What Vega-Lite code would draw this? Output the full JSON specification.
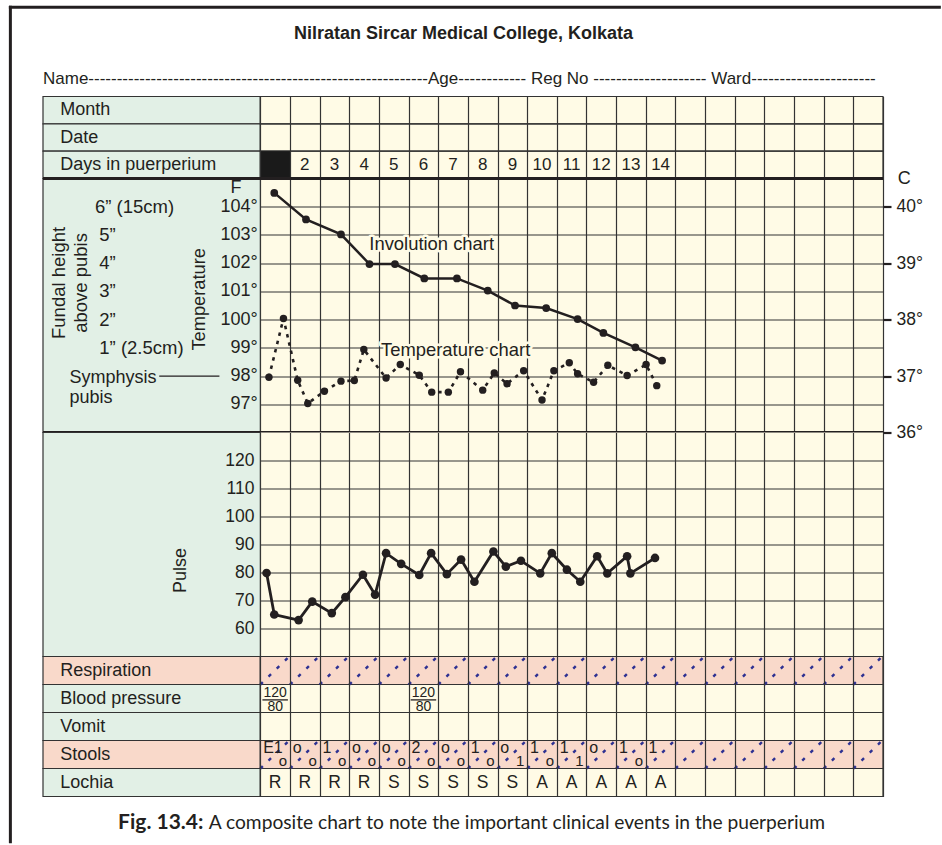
{
  "$schema": "https://vega.github.io/schema/vega-lite/v6.json",
  "padding": {"left": 8, "top": 4.5, "right": 0, "bottom": 0},
  "background": "white",
  "spacing": 0,
  "bounds": "flush",
  "datasets": {
    "header_rows": [{"row": "Month"}, {"row": "Date"}, {"row": "Days in puerperium"}],
    "days": [{"day": 2}, {"day": 3}, {"day": 4}, {"day": 5}, {"day": 6}, {"day": 7}, {"day": 8}, {"day": 9}, {"day": 10}, {"day": 11}, {"day": 12}, {"day": 13}, {"day": 14}],
    "columns": [{"day": 1}, {"day": 2}, {"day": 3}, {"day": 4}, {"day": 5}, {"day": 6}, {"day": 7}, {"day": 8}, {"day": 9}, {"day": 10}, {"day": 11}, {"day": 12}, {"day": 13}, {"day": 14}, {"day": 15}, {"day": 16}, {"day": 17}, {"day": 18}, {"day": 19}, {"day": 20}, {"day": 21}],
    "temp_scale": [
      {"F": 104, "label": "104°", "fundal": "6” (15cm)"},
      {"F": 103, "label": "103°", "fundal": "5”"},
      {"F": 102, "label": "102°", "fundal": "4”"},
      {"F": 101, "label": "101°", "fundal": "3”"},
      {"F": 100, "label": "100°", "fundal": "2”"},
      {"F": 99, "label": "99°", "fundal": "1” (2.5cm)"},
      {"F": 98, "label": "98°", "fundal": "Symphysis\npubis"},
      {"F": 97, "label": "97°", "fundal": ""}
    ],
    "involution": [
      {"day": 0.97, "F": 104.49}, {"day": 2.04, "F": 103.55}, {"day": 3.22, "F": 103.02}, {"day": 4.18, "F": 101.97},
      {"day": 5.04, "F": 101.97}, {"day": 6.03, "F": 101.46}, {"day": 7.13, "F": 101.46}, {"day": 8.17, "F": 101.03},
      {"day": 9.09, "F": 100.5}, {"day": 10.14, "F": 100.41}, {"day": 11.2, "F": 100.02}, {"day": 12.07, "F": 99.53},
      {"day": 13.15, "F": 99.02}, {"day": 14.05, "F": 98.55}
    ],
    "temperature": [
      {"day": 0.79, "F": 97.96}, {"day": 1.28, "F": 100.04}, {"day": 1.76, "F": 97.85}, {"day": 2.1, "F": 97.03},
      {"day": 2.66, "F": 97.46}, {"day": 3.22, "F": 97.82}, {"day": 3.67, "F": 97.84}, {"day": 3.99, "F": 98.94},
      {"day": 4.74, "F": 97.93}, {"day": 5.22, "F": 98.41}, {"day": 5.86, "F": 98.03}, {"day": 6.28, "F": 97.43},
      {"day": 6.84, "F": 97.43}, {"day": 7.25, "F": 98.15}, {"day": 8.0, "F": 97.5}, {"day": 8.39, "F": 98.11},
      {"day": 8.82, "F": 97.73}, {"day": 9.38, "F": 98.19}, {"day": 10.0, "F": 97.15}, {"day": 10.4, "F": 98.19},
      {"day": 10.92, "F": 98.47}, {"day": 11.2, "F": 98.08}, {"day": 11.74, "F": 97.78}, {"day": 12.22, "F": 98.38},
      {"day": 12.87, "F": 98.02}, {"day": 13.51, "F": 98.41}, {"day": 13.87, "F": 97.66}
    ],
    "pulse_scale": [{"pulse": 120}, {"pulse": 110}, {"pulse": 100}, {"pulse": 90}, {"pulse": 80}, {"pulse": 70}, {"pulse": 60}],
    "pulse": [
      {"day": 0.71, "pulse": 79.8}, {"day": 0.97, "pulse": 65.0}, {"day": 1.79, "pulse": 63.0}, {"day": 2.25, "pulse": 69.6},
      {"day": 2.91, "pulse": 65.5}, {"day": 3.37, "pulse": 71.2}, {"day": 3.96, "pulse": 79.2}, {"day": 4.37, "pulse": 72.1},
      {"day": 4.74, "pulse": 86.9}, {"day": 5.25, "pulse": 83.1}, {"day": 5.86, "pulse": 79.1}, {"day": 6.26, "pulse": 86.9},
      {"day": 6.79, "pulse": 79.4}, {"day": 7.27, "pulse": 84.6}, {"day": 7.72, "pulse": 76.7}, {"day": 8.36, "pulse": 87.5},
      {"day": 8.78, "pulse": 82.1}, {"day": 9.29, "pulse": 84.2}, {"day": 9.94, "pulse": 79.7}, {"day": 10.33, "pulse": 86.9},
      {"day": 10.84, "pulse": 81.0}, {"day": 11.29, "pulse": 76.7}, {"day": 11.86, "pulse": 85.8}, {"day": 12.2, "pulse": 79.7},
      {"day": 12.87, "pulse": 85.8}, {"day": 12.98, "pulse": 79.7}, {"day": 13.81, "pulse": 85.2}
    ],
    "bottom_rows": [{"row": "Respiration"}, {"row": "Blood pressure"}, {"row": "Vomit"}, {"row": "Stools"}, {"row": "Lochia"}],
    "bp": [
      {"day": 1, "row": "Blood pressure", "systolic": 120, "diastolic": 80},
      {"day": 6, "row": "Blood pressure", "systolic": 120, "diastolic": 80}
    ],
    "stools": [
      {"day": 1, "row": "Stools", "upper": "E1", "lower": "o"},
      {"day": 2, "row": "Stools", "upper": "o", "lower": "o"},
      {"day": 3, "row": "Stools", "upper": "1", "lower": "o"},
      {"day": 4, "row": "Stools", "upper": "o", "lower": "o"},
      {"day": 5, "row": "Stools", "upper": "o", "lower": "o"},
      {"day": 6, "row": "Stools", "upper": "2", "lower": "o"},
      {"day": 7, "row": "Stools", "upper": "o", "lower": "o"},
      {"day": 8, "row": "Stools", "upper": "1", "lower": "o"},
      {"day": 9, "row": "Stools", "upper": "o", "lower": "1"},
      {"day": 10, "row": "Stools", "upper": "1", "lower": "o"},
      {"day": 11, "row": "Stools", "upper": "1", "lower": "1"},
      {"day": 12, "row": "Stools", "upper": "o", "lower": ""},
      {"day": 13, "row": "Stools", "upper": "1", "lower": "o"},
      {"day": 14, "row": "Stools", "upper": "1", "lower": ""}
    ],
    "lochia": [
      {"day": 1, "row": "Lochia", "lochia": "R"}, {"day": 2, "row": "Lochia", "lochia": "R"},
      {"day": 3, "row": "Lochia", "lochia": "R"}, {"day": 4, "row": "Lochia", "lochia": "R"},
      {"day": 5, "row": "Lochia", "lochia": "S"}, {"day": 6, "row": "Lochia", "lochia": "S"},
      {"day": 7, "row": "Lochia", "lochia": "S"}, {"day": 8, "row": "Lochia", "lochia": "S"},
      {"day": 9, "row": "Lochia", "lochia": "S"}, {"day": 10, "row": "Lochia", "lochia": "A"},
      {"day": 11, "row": "Lochia", "lochia": "A"}, {"day": 12, "row": "Lochia", "lochia": "A"},
      {"day": 13, "row": "Lochia", "lochia": "A"}, {"day": 14, "row": "Lochia", "lochia": "A"}
    ]
  },
  "vconcat": [
    {
      "width": 840, "height": 82,
      "view": {"fill": "#FFFBE6", "stroke": null},
      "layer": [
        {
          "data": {"name": "header_rows"},
          "mark": {"type": "rect", "fill": "#E2F0E6", "stroke": "#333333", "strokeWidth": 1.2},
          "encoding": {
            "x": {"datum": -6.83, "type": "quantitative", "scale": {"domain": [-6.83, 21.5], "nice": false, "zero": false},
              "axis": {"values": [0.5,1.5,2.5,3.5,4.5,5.5,6.5,7.5,8.5,9.5,10.5,11.5,12.5,13.5,14.5,15.5,16.5,17.5,18.5,19.5,20.5,21.5], "tickCount": 100, "grid": true, "gridColor": "#333333", "gridWidth": 1.2, "gridOpacity": 1, "labels": false, "ticks": false, "domain": false, "title": null, "zindex": 1}},
            "x2": {"datum": 0.5},
            "y": {"field": "row", "type": "nominal", "scale": {"domain": ["Month", "Date", "Days in puerperium"], "paddingInner": 0, "paddingOuter": 0}, "axis": null}
          }
        },
        {
          "data": {"name": "header_rows"},
          "mark": {"type": "rect", "filled": false, "stroke": "#333333", "strokeWidth": 1.2},
          "encoding": {
            "x": {"datum": 0.5, "type": "quantitative"},
            "x2": {"datum": 21.5},
            "y": {"field": "row", "type": "nominal"}
          }
        },
        {
          "data": {"values": [{}]},
          "mark": {"type": "rect", "fill": "#1A1A1A"},
          "encoding": {
            "x": {"datum": 0.5, "type": "quantitative"},
            "x2": {"datum": 1.5},
            "y": {"datum": "Days in puerperium", "type": "nominal"}
          }
        },
        {
          "data": {"name": "header_rows"},
          "mark": {"type": "text", "align": "left", "baseline": "middle", "fontSize": 18},
          "encoding": {
            "x": {"datum": -6.25, "type": "quantitative"},
            "y": {"field": "row", "type": "nominal"},
            "text": {"field": "row"}
          }
        },
        {
          "data": {"name": "days"},
          "mark": {"type": "text", "baseline": "middle", "fontSize": 17},
          "encoding": {
            "x": {"field": "day", "type": "quantitative"},
            "y": {"datum": "Days in puerperium", "type": "nominal"},
            "text": {"field": "day", "type": "quantitative"}
          }
        }
      ]
    },
    {
      "width": 840, "height": 254,
      "view": {"fill": "#FFFBE6", "stroke": null},
      "resolve": {"scale": {"y": "independent"}},
      "layer": [
        {
          "layer": [
            {
              "data": {"values": [{}]},
              "mark": {"type": "rect", "fill": "#E2F0E6", "stroke": "#333333", "strokeWidth": 1.2},
              "encoding": {
                "x": {"datum": -6.83, "type": "quantitative", "scale": {"domain": [-6.83, 21.5], "nice": false, "zero": false},
                  "axis": {"values": [0.5,1.5,2.5,3.5,4.5,5.5,6.5,7.5,8.5,9.5,10.5,11.5,12.5,13.5,14.5,15.5,16.5,17.5,18.5,19.5,20.5,21.5], "tickCount": 100, "grid": true, "gridColor": "#333333", "gridWidth": 1.2, "gridOpacity": 1, "labels": false, "ticks": false, "domain": false, "title": null, "zindex": 0}},
                "x2": {"datum": 0.5}
              }
            },
            {
              "data": {"name": "temp_scale"},
              "mark": {"type": "text", "align": "right", "baseline": "middle", "fontSize": 18},
              "encoding": {
                "x": {"datum": 0.41, "type": "quantitative"},
                "y": {"field": "F", "type": "quantitative", "scale": {"domain": [96, 105], "nice": false, "zero": false},
                  "axis": {"values": [97,98,99,100,101,102,103,104], "tickCount": 100, "grid": true, "gridColor": "#333333", "gridWidth": 1.2, "gridOpacity": 1, "labels": false, "ticks": false, "domain": false, "title": null, "zindex": 0}},
                "text": {"field": "label"}
              }
            },
            {
              "data": {"values": [{}]},
              "mark": {"type": "text", "align": "center", "baseline": "middle", "fontSize": 18, "fontWeight": "bold"},
              "encoding": {
                "x": {"datum": 7.35, "type": "quantitative"},
                "y": {"datum": 110.11, "type": "quantitative"},
                "text": {"value": "Nilratan Sircar Medical College, Kolkata"}
              }
            },
            {
              "data": {"values": [{}]},
              "mark": {"type": "text", "align": "left", "baseline": "middle", "fontSize": 17},
              "encoding": {
                "x": {"datum": -6.83, "type": "quantitative"},
                "y": {"datum": 108.52, "type": "quantitative"},
                "text": {"value": "Name------------------------------------------------------------Age------------ Reg No -------------------- Ward----------------------"}
              }
            },
            {
              "data": {"name": "temp_scale"},
              "transform": [{"filter": "datum.F >= 99 && datum.F <= 103"}],
              "mark": {"type": "text", "align": "left", "baseline": "middle", "fontSize": 18.5},
              "encoding": {
                "x": {"datum": -4.93, "type": "quantitative"},
                "y": {"field": "F", "type": "quantitative"},
                "text": {"field": "fundal"}
              }
            },
            {
              "data": {"name": "temp_scale"},
              "transform": [{"filter": "datum.F == 104"}],
              "mark": {"type": "text", "align": "left", "baseline": "middle", "fontSize": 18.5},
              "encoding": {
                "x": {"datum": -5.08, "type": "quantitative"},
                "y": {"field": "F", "type": "quantitative"},
                "text": {"field": "fundal"}
              }
            },
            {
              "data": {"name": "temp_scale"},
              "transform": [{"filter": "datum.F == 98"}],
              "mark": {"type": "text", "align": "left", "baseline": "alphabetic", "dy": 7, "fontSize": 18, "lineBreak": "\n", "lineHeight": 20},
              "encoding": {
                "x": {"datum": -5.94, "type": "quantitative"},
                "y": {"field": "F", "type": "quantitative"},
                "text": {"field": "fundal"}
              }
            },
            {
              "data": {"values": [{}]},
              "mark": {"type": "rule", "color": "#231F20", "strokeWidth": 1.3},
              "encoding": {
                "x": {"datum": -2.91, "type": "quantitative"},
                "x2": {"datum": -0.88},
                "y": {"datum": 98, "type": "quantitative"}
              }
            },
            {
              "data": {"values": [{}]},
              "mark": {"type": "text", "angle": 270, "baseline": "middle", "fontSize": 18.5, "lineHeight": 21.7},
              "encoding": {
                "x": {"datum": -6.28, "type": "quantitative"},
                "y": {"datum": 101.3, "type": "quantitative"},
                "text": {"value": ["Fundal height", "above pubis"]}
              }
            },
            {
              "data": {"values": [{}]},
              "mark": {"type": "text", "angle": 270, "baseline": "middle", "fontSize": 18.3},
              "encoding": {
                "x": {"datum": -1.52, "type": "quantitative"},
                "y": {"datum": 100.72, "type": "quantitative"},
                "text": {"value": "Temperature"}
              }
            },
            {
              "data": {"values": [{}]},
              "mark": {"type": "text", "baseline": "middle", "fontSize": 18},
              "encoding": {
                "x": {"datum": -0.32, "type": "quantitative"},
                "y": {"datum": 104.67, "type": "quantitative"},
                "text": {"value": "F"}
              }
            },
            {
              "data": {"values": [{}]},
              "mark": {"type": "text", "align": "left", "baseline": "middle", "fontSize": 18.4, "stroke": "#FFFBE6", "strokeWidth": 5, "fill": "#FFFBE6", "strokeJoin": "round"},
              "encoding": {
                "x": {"datum": 4.175, "type": "quantitative"},
                "y": {"datum": 102.68, "type": "quantitative"},
                "text": {"value": "Involution chart"}
              }
            },
            {
              "data": {"values": [{}]},
              "mark": {"type": "text", "align": "left", "baseline": "middle", "fontSize": 18.4},
              "encoding": {
                "x": {"datum": 4.175, "type": "quantitative"},
                "y": {"datum": 102.68, "type": "quantitative"},
                "text": {"value": "Involution chart"}
              }
            },
            {
              "data": {"values": [{}]},
              "mark": {"type": "text", "align": "left", "baseline": "middle", "fontSize": 18.4, "stroke": "#FFFBE6", "strokeWidth": 5, "fill": "#FFFBE6", "strokeJoin": "round"},
              "encoding": {
                "x": {"datum": 4.57, "type": "quantitative"},
                "y": {"datum": 98.92, "type": "quantitative"},
                "text": {"value": "Temperature chart"}
              }
            },
            {
              "data": {"values": [{}]},
              "mark": {"type": "text", "align": "left", "baseline": "middle", "fontSize": 18.4},
              "encoding": {
                "x": {"datum": 4.57, "type": "quantitative"},
                "y": {"datum": 98.92, "type": "quantitative"},
                "text": {"value": "Temperature chart"}
              }
            },
            {
              "data": {"name": "involution"},
              "mark": {"type": "line", "color": "#231F20", "strokeWidth": 2.5},
              "encoding": {
                "x": {"field": "day", "type": "quantitative"},
                "y": {"field": "F", "type": "quantitative"}
              }
            },
            {
              "data": {"name": "involution"},
              "mark": {"type": "circle", "color": "#231F20", "size": 60, "opacity": 1},
              "encoding": {
                "x": {"field": "day", "type": "quantitative"},
                "y": {"field": "F", "type": "quantitative"}
              }
            },
            {
              "data": {"name": "temperature"},
              "mark": {"type": "line", "color": "#231F20", "strokeWidth": 2.6, "strokeDash": [3.5, 5]},
              "encoding": {
                "x": {"field": "day", "type": "quantitative"},
                "y": {"field": "F", "type": "quantitative"}
              }
            },
            {
              "data": {"name": "temperature"},
              "mark": {"type": "circle", "color": "#231F20", "size": 55, "opacity": 1},
              "encoding": {
                "x": {"field": "day", "type": "quantitative"},
                "y": {"field": "F", "type": "quantitative"}
              }
            },
            {
              "data": {"values": [{}]},
              "mark": {"type": "rule", "color": "#231F20", "strokeWidth": 2.8},
              "encoding": {
                "x": {"datum": -6.83, "type": "quantitative"},
                "x2": {"datum": 21.5},
                "y": {"datum": 105, "type": "quantitative"}
              }
            },
            {
              "data": {"values": [{}]},
              "mark": {"type": "rule", "color": "#231F20", "strokeWidth": 2.8},
              "encoding": {
                "x": {"datum": -6.83, "type": "quantitative"},
                "x2": {"datum": 21.5},
                "y": {"datum": 96, "type": "quantitative"}
              }
            },
            {
              "data": {"values": [{}]},
              "mark": {"type": "rule", "color": "#231F20", "strokeWidth": 3, "strokeCap": "square"},
              "encoding": {
                "x": {"datum": -7.93, "type": "quantitative"},
                "y": {"datum": 111.07, "type": "quantitative"},
                "y2": {"datum": 81.5}
              }
            },
            {
              "data": {"values": [{}]},
              "mark": {"type": "rule", "color": "#231F20", "strokeWidth": 3, "strokeCap": "square"},
              "encoding": {
                "x": {"datum": -7.93, "type": "quantitative"},
                "x2": {"datum": 23.4},
                "y": {"datum": 111.07, "type": "quantitative"}
              }
            }
          ]
        },
        {
          "data": {"values": [{}]},
          "mark": {"type": "text", "baseline": "middle", "fontSize": 18},
          "encoding": {
            "x": {"datum": 22.22, "type": "quantitative"},
            "y": {"datum": 40.5, "type": "quantitative", "scale": {"domain": [36, 40.5], "nice": false, "zero": false},
              "axis": {"orient": "right", "values": [36, 37, 38, 39, 40], "tickCount": 100, "labelExpr": "datum.value + '°'", "grid": false, "domain": false, "ticks": true, "tickSize": 8, "tickWidth": 2.2, "tickColor": "#231F20", "labels": true, "labelFont": "Liberation Sans", "labelFontSize": 17.5, "labelColor": "#231F20", "labelPadding": 5, "title": null, "zindex": 1}},
            "text": {"value": "C"}
          }
        }
      ]
    },
    {
      "width": 840, "height": 224,
      "view": {"fill": "#FFFBE6", "stroke": null},
      "layer": [
        {
          "data": {"values": [{}]},
          "mark": {"type": "rect", "fill": "#E2F0E6", "stroke": "#333333", "strokeWidth": 1.2},
          "encoding": {
            "x": {"datum": -6.83, "type": "quantitative", "scale": {"domain": [-6.83, 21.5], "nice": false, "zero": false},
              "axis": {"values": [0.5,1.5,2.5,3.5,4.5,5.5,6.5,7.5,8.5,9.5,10.5,11.5,12.5,13.5,14.5,15.5,16.5,17.5,18.5,19.5,20.5,21.5], "tickCount": 100, "grid": true, "gridColor": "#333333", "gridWidth": 1.2, "gridOpacity": 1, "labels": false, "ticks": false, "domain": false, "title": null, "zindex": 0}},
            "x2": {"datum": 0.5}
          }
        },
        {
          "data": {"name": "pulse_scale"},
          "mark": {"type": "text", "align": "right", "baseline": "middle", "fontSize": 17.5},
          "encoding": {
            "x": {"datum": 0.3, "type": "quantitative"},
            "y": {"field": "pulse", "type": "quantitative", "scale": {"domain": [50, 130], "nice": false, "zero": false},
              "axis": {"values": [60, 70, 80, 90, 100, 110, 120], "tickCount": 100, "grid": true, "gridColor": "#333333", "gridWidth": 1.2, "gridOpacity": 1, "labels": false, "ticks": false, "domain": false, "title": null, "zindex": 0}},
            "text": {"field": "pulse", "type": "quantitative"}
          }
        },
        {
          "data": {"values": [{}]},
          "mark": {"type": "text", "angle": 270, "baseline": "middle", "fontSize": 18},
          "encoding": {
            "x": {"datum": -2.18, "type": "quantitative"},
            "y": {"datum": 80.7, "type": "quantitative"},
            "text": {"value": "Pulse"}
          }
        },
        {
          "data": {"name": "pulse"},
          "mark": {"type": "line", "color": "#231F20", "strokeWidth": 2.8},
          "encoding": {
            "x": {"field": "day", "type": "quantitative"},
            "y": {"field": "pulse", "type": "quantitative"}
          }
        },
        {
          "data": {"name": "pulse"},
          "mark": {"type": "circle", "color": "#231F20", "size": 75, "opacity": 1},
          "encoding": {
            "x": {"field": "day", "type": "quantitative"},
            "y": {"field": "pulse", "type": "quantitative"}
          }
        }
      ]
    },
    {
      "width": 840, "height": 140,
      "view": {"fill": "#FFFBE6", "stroke": null},
      "layer": [
        {
          "data": {"name": "bottom_rows"},
          "mark": {"type": "rect", "stroke": "#333333", "strokeWidth": 1.2},
          "encoding": {
            "x": {"datum": -6.83, "type": "quantitative", "scale": {"domain": [-6.83, 21.5], "nice": false, "zero": false},
              "axis": {"values": [0.5,1.5,2.5,3.5,4.5,5.5,6.5,7.5,8.5,9.5,10.5,11.5,12.5,13.5,14.5,15.5,16.5,17.5,18.5,19.5,20.5,21.5], "tickCount": 100, "grid": true, "gridColor": "#333333", "gridWidth": 1.2, "gridOpacity": 1, "labels": false, "ticks": false, "domain": false, "title": null, "zindex": 1}},
            "x2": {"datum": 0.5},
            "y": {"field": "row", "type": "nominal", "scale": {"domain": ["Respiration", "Blood pressure", "Vomit", "Stools", "Lochia"], "paddingInner": 0, "paddingOuter": 0}, "axis": null},
            "fill": {"condition": {"test": "datum.row === 'Respiration' || datum.row === 'Stools'", "value": "#F9D9CA"}, "value": "#E2F0E6"}
          }
        },
        {
          "data": {"name": "bottom_rows"},
          "mark": {"type": "rect", "stroke": "#333333", "strokeWidth": 1.2},
          "encoding": {
            "x": {"datum": 0.5, "type": "quantitative"},
            "x2": {"datum": 21.5},
            "y": {"field": "row", "type": "nominal"},
            "fill": {"condition": {"test": "datum.row === 'Respiration' || datum.row === 'Stools'", "value": "#F9D9CA"}, "value": "#FFFBE6"}
          }
        },
        {
          "data": {"name": "bottom_rows"},
          "mark": {"type": "text", "align": "left", "baseline": "middle", "fontSize": 18},
          "encoding": {
            "x": {"datum": -6.25, "type": "quantitative"},
            "y": {"field": "row", "type": "nominal"},
            "text": {"field": "row"}
          }
        },
        {
          "data": {"name": "columns"},
          "mark": {"type": "point", "shape": "M -1.05 1 L 1.15 -1.15", "size": 801, "filled": false, "stroke": "#2E3192", "strokeWidth": 2.4, "strokeDash": [3.5, 8], "opacity": 1},
          "encoding": {
            "x": {"field": "day", "type": "quantitative"},
            "y": {"datum": "Respiration", "type": "nominal"}
          }
        },
        {
          "data": {"name": "columns"},
          "mark": {"type": "point", "shape": "M -1.05 1 L 1.15 -1.15", "size": 801, "filled": false, "stroke": "#2E3192", "strokeWidth": 2.4, "strokeDash": [3.5, 8], "opacity": 1},
          "encoding": {
            "x": {"field": "day", "type": "quantitative"},
            "y": {"datum": "Stools", "type": "nominal"}
          }
        },
        {
          "data": {"name": "bp"},
          "mark": {"type": "text", "baseline": "middle", "fontSize": 14},
          "encoding": {
            "x": {"field": "day", "type": "quantitative"},
            "y": {"field": "row", "type": "nominal", "bandPosition": 0.29},
            "text": {"field": "systolic", "type": "quantitative"}
          }
        },
        {
          "data": {"name": "bp"},
          "mark": {"type": "text", "baseline": "middle", "fontSize": 14},
          "encoding": {
            "x": {"field": "day", "type": "quantitative"},
            "y": {"field": "row", "type": "nominal", "bandPosition": 0.8},
            "text": {"field": "diastolic", "type": "quantitative"}
          }
        },
        {
          "data": {"name": "bp"},
          "mark": {"type": "point", "shape": "M -1 0 L 1 0", "size": 650, "filled": false, "stroke": "#231F20", "strokeWidth": 1.3, "opacity": 1},
          "encoding": {
            "x": {"field": "day", "type": "quantitative"},
            "y": {"field": "row", "type": "nominal", "bandPosition": 0.55}
          }
        },
        {
          "data": {"name": "stools"},
          "mark": {"type": "text", "align": "left", "baseline": "middle", "dx": -12, "fontSize": 16},
          "encoding": {
            "x": {"field": "day", "type": "quantitative"},
            "y": {"field": "row", "type": "nominal", "bandPosition": 0.25},
            "text": {"field": "upper"}
          }
        },
        {
          "data": {"name": "stools"},
          "mark": {"type": "text", "align": "right", "baseline": "middle", "dx": 12, "fontSize": 15},
          "encoding": {
            "x": {"field": "day", "type": "quantitative"},
            "y": {"field": "row", "type": "nominal", "bandPosition": 0.74},
            "text": {"field": "lower"}
          }
        },
        {
          "data": {"name": "lochia"},
          "mark": {"type": "text", "baseline": "middle", "fontSize": 17.5},
          "encoding": {
            "x": {"field": "day", "type": "quantitative"},
            "y": {"field": "row", "type": "nominal"},
            "text": {"field": "lochia"}
          }
        }
      ]
    },
    {
      "width": 840, "height": 48,
      "layer": [
        {
          "data": {"values": [{}]},
          "mark": {"type": "text", "align": "right", "baseline": "alphabetic", "dy": 8, "font": "Lato", "fontSize": 21, "fontWeight": "bold"},
          "encoding": {
            "x": {"datum": -1.42, "type": "quantitative", "scale": {"domain": [-6.83, 21.5], "nice": false, "zero": false}, "axis": null},
            "text": {"value": "Fig. 13.4:"}
          }
        },
        {
          "data": {"values": [{}]},
          "mark": {"type": "text", "align": "left", "baseline": "alphabetic", "dy": 8, "font": "Lato", "fontSize": 19.2},
          "encoding": {
            "x": {"datum": -1.24, "type": "quantitative", "axis": null},
            "text": {"value": "A composite chart to note the important clinical events in the puerperium"}
          }
        }
      ]
    }
  ],
  "config": {
    "view": {"stroke": null},
    "axis": {"labels": false, "ticks": false, "domain": false, "grid": false},
    "text": {"font": "Liberation Sans", "color": "#231F20"}
  }
}
